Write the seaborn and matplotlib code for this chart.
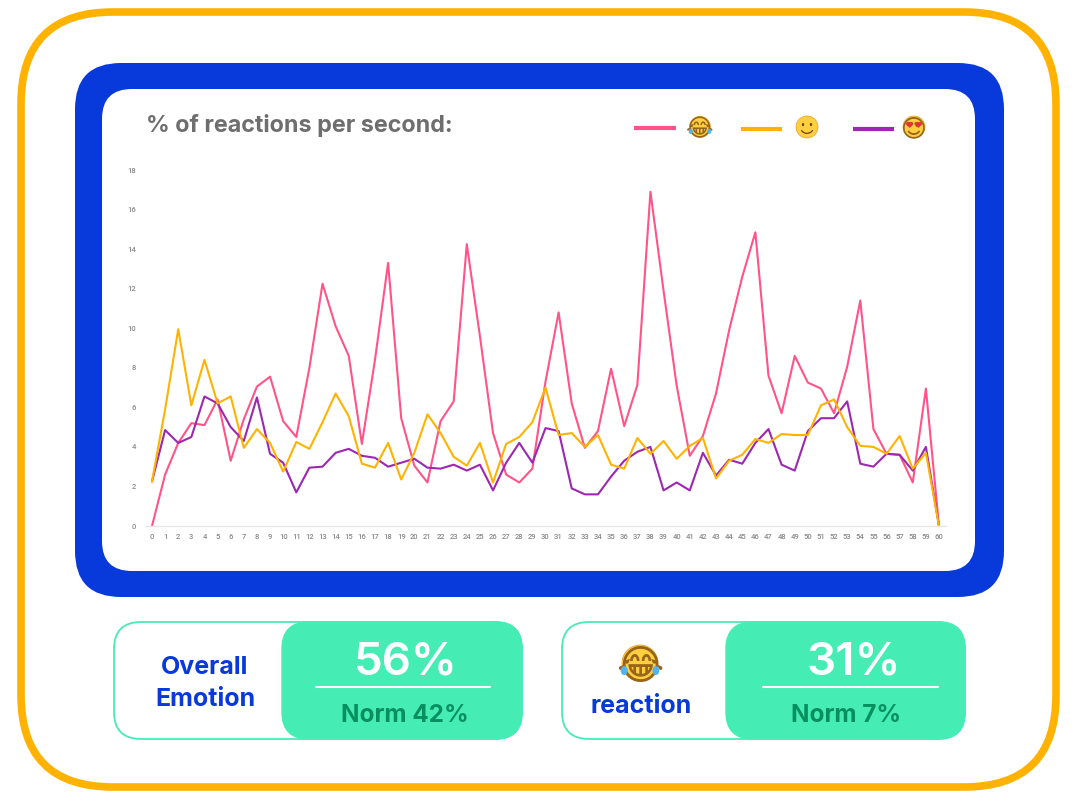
import pandas as pd
import seaborn as sns
import matplotlib
matplotlib.use('Agg')
import matplotlib.pyplot as plt
from matplotlib.patches import FancyBboxPatch, Circle, Ellipse, Arc, Polygon

# datos
seconds = list(range(61))
laugh = [0, 2.6, 4.2, 5.2, 5.1, 6.4, 3.3, 5.4, 7.05, 7.55, 5.3, 4.5, 8.0, 12.25, 10.1, 8.6, 4.15, 8.4, 13.3, 5.45,
         3.05, 2.2, 5.3, 6.3, 14.25, 9.6, 4.7, 2.6, 2.2, 2.9, 7.3, 10.8, 6.2, 3.95, 4.8, 7.95, 5.05, 7.12, 16.9, 11.9,
         7.1, 3.55, 4.55, 6.7, 9.9, 12.6, 14.85, 7.6, 5.7, 8.6, 7.25, 6.95, 5.7, 8.05, 11.4, 4.9, 3.65, 3.6, 2.2, 6.95, 0]
smile = [2.25, 5.9, 9.95, 6.1, 8.4, 6.2, 6.55, 3.95, 4.9, 4.2, 2.75, 4.25, 3.9, 5.25, 6.7, 5.55, 3.15, 2.95, 4.2, 2.35,
         3.7, 5.65, 4.7, 3.5, 3.05, 4.2, 2.2, 4.15, 4.5, 5.25, 7.0, 4.6, 4.7, 4.0, 4.6, 3.1, 2.9, 4.45, 3.65, 4.3,
         3.4, 4.05, 4.45, 2.4, 3.3, 3.6, 4.4, 4.2, 4.65, 4.6, 4.6, 6.1, 6.4, 5.0, 4.05, 4.0, 3.65, 4.55, 2.9, 3.7, 0]
love = [2.25, 4.85, 4.2, 4.5, 6.55, 6.2, 5.0, 4.3, 6.5, 3.65, 3.2, 1.7, 2.95, 3.0, 3.7, 3.9, 3.55, 3.45, 3.0, 3.2,
        3.4, 2.95, 2.9, 3.1, 2.8, 3.1, 1.8, 3.2, 4.2, 3.2, 4.95, 4.8, 1.9, 1.6, 1.6, 2.5, 3.3, 3.75, 4.0, 1.8,
        2.2, 1.8, 3.7, 2.55, 3.35, 3.15, 4.2, 4.9, 3.1, 2.8, 4.8, 5.45, 5.45, 6.3, 3.15, 3.0, 3.65, 3.6, 2.8, 4.0, 0]
y_ticks = [0, 2, 4, 6, 8, 10, 12, 14, 16, 18]

PINK = '#FF5487'
AMBER = '#FFB300'
PURPLE = '#9C27B0'
BLUE = '#0739DB'
MINT = '#45EDB5'
NORM = '#078F60'
FACE = '#FFCF3F'
FEATURE = '#96641A'

sns.set_theme(style='white')
plt.rcParams['font.family'] = ['Inter', 'DejaVu Sans']

W, H = 1079, 805
fig = plt.figure(figsize=(W / 100, H / 100), dpi=100)

# capa de fondo en pixeles
bg = fig.add_axes([0, 0, 1, 1])
bg.set_xlim(0, W)
bg.set_ylim(H, 0)
bg.axis('off')


def box(x0, y0, x1, y1, r, fc, ec='none', lw=0, z=1):
    bg.add_patch(FancyBboxPatch((x0, y0), x1 - x0, y1 - y0, boxstyle=f'round,pad=0,rounding_size={r}',
                                fc=fc, ec=ec, lw=lw, zorder=z))


def face_glyph(cx, cy, r, char):
    bg.add_patch(Circle((cx, cy), r, fc=FACE, ec='#E8A020', lw=0.5, zorder=3))
    bg.text(cx, cy, char, fontsize=r * 1.62, family='DejaVu Sans', color=FEATURE, ha='center',
            va='center_baseline', zorder=4)


def laugh_face(cx, cy, r):
    # lagrimas azules a los lados
    for side in (-1, 1):
        bg.add_patch(Ellipse((cx + side * r * 0.88, cy + r * 0.42), r * 0.38, r * 0.5, fc='#4FB4F0', ec='none', zorder=5))
    face_glyph(cx, cy, r, '\U0001F602')


def love_face(cx, cy, r):
    face_glyph(cx, cy, r, '\U0001F60D')
    # corazones rojos encima de los ojos del glifo
    for side in (-1, 1):
        hx = cx + side * r * 0.42
        hy = cy - r * 0.24
        s = r * 0.2
        bg.add_patch(Circle((hx - s * 0.7, hy - s * 0.3), s * 0.8, fc='#E8303A', ec='none', zorder=5))
        bg.add_patch(Circle((hx + s * 0.7, hy - s * 0.3), s * 0.8, fc='#E8303A', ec='none', zorder=5))
        bg.add_patch(Polygon([(hx - s * 1.45, hy), (hx + s * 1.45, hy), (hx, hy + s * 1.6)], fc='#E8303A', ec='none', zorder=5))


def smile_face(cx, cy, r):
    # esta cara no esta en ninguna fuente instalada
    bg.add_patch(Circle((cx, cy), r, fc=FACE, ec='#E8A020', lw=0.5, zorder=3))
    for side in (-1, 1):
        bg.add_patch(Ellipse((cx + side * r * 0.36, cy - r * 0.22), r * 0.2, r * 0.3, fc='#6B4310', ec='none', zorder=4))
    bg.add_patch(Arc((cx, cy + r * 0.05), r * 1.15, r * 1.05, theta1=25, theta2=155, color='#6B4310', lw=0.9, zorder=4))


box(21, 12, 1056, 787, 92, 'white', AMBER, 5.5)
box(75, 63, 1004, 597, 46, BLUE)
box(102, 89, 975, 571, 30, 'white', z=2)

bg.text(146, 123, '% of reactions per second:', fontsize=16.8, fontweight='bold', color='#6E6E6E',
        va='center_baseline', zorder=3)

# leyenda
for x0, x1, y, c in [(634, 676, 128, PINK), (741, 782, 129, AMBER), (853, 894, 129, PURPLE)]:
    bg.plot([x0, x1], [y, y], color=c, lw=3, solid_capstyle='butt', zorder=3)
laugh_face(700, 127, 10.5)
smile_face(807, 127, 11)
love_face(914, 127, 11)

# tarjetas
for x0, x_mid, x1, big, norm, lx0, lx1, big_x, cx in [(114, 282, 522, '56%', 'Norm 42%', 316, 490, 406, 405),
                                                      (562, 726, 965, '31%', 'Norm 7%', 763, 938, 854, 846)]:
    box(x0, 622, x1, 739, 27, 'white', MINT, 1.3)
    box(x_mid, 622, x1, 739, 27, MINT, MINT, 1)
    bg.plot([lx0, lx1], [687, 687], color='white', lw=1.5, zorder=3)
    bg.text(big_x, 658, big, fontsize=33, fontweight='semibold', color='white', ha='center', va='center_baseline', zorder=3)
    bg.text(cx, 713, norm, fontsize=17.5, fontweight='bold', color=NORM, ha='center', va='center_baseline', zorder=3)

bg.text(205, 665, 'Overall', fontsize=18, fontweight='bold', color=BLUE, ha='center', va='center_baseline', zorder=3)
bg.text(205, 697, 'Emotion', fontsize=18, fontweight='bold', color=BLUE, ha='center', va='center_baseline', zorder=3)
bg.text(641, 704, 'reaction', fontsize=18, fontweight='bold', color=BLUE, ha='center', va='center_baseline', zorder=3)
laugh_face(640, 663, 18)

# grafico de lineas
df = pd.DataFrame({'second': seconds, 'laugh': laugh, 'love': love, 'smile': smile})
df = df.melt(id_vars='second', var_name='reaction', value_name='pct')

px_per_x = (939 - 152) / 60
left = 152 - 0.5 * px_per_x
right = 939 + 0.5 * px_per_x
ax = fig.add_axes([left / W, 1 - 526 / H, (right - left) / W, (526 - 170) / H], zorder=5)
ax.patch.set_alpha(0)
sns.lineplot(data=df, x='second', y='pct', hue='reaction', hue_order=['laugh', 'love', 'smile'],
             palette={'laugh': PINK, 'love': PURPLE, 'smile': AMBER}, linewidth=1.5, legend=False, ax=ax)
ax.set_xlim(-0.5, 60.5)
ax.set_ylim(0, 18)
ax.set_xticks(seconds)
ax.set_yticks(y_ticks)
ax.set_xlabel('')
ax.set_ylabel('')
ax.tick_params(axis='both', length=0, labelsize=5.5, labelcolor='#8A8A8A')
ax.tick_params(axis='x', pad=5.5)
ax.tick_params(axis='y', pad=7)
for label in ax.get_xticklabels() + ax.get_yticklabels():
    label.set_family('Roboto')
    label.set_fontweight('medium')
sns.despine(ax=ax, left=True)
ax.spines['bottom'].set_color('#E6E6E6')
ax.spines['bottom'].set_linewidth(1)
for line in ax.lines:
    line.set_clip_on(False)

plt.savefig('out.png', dpi=100)
